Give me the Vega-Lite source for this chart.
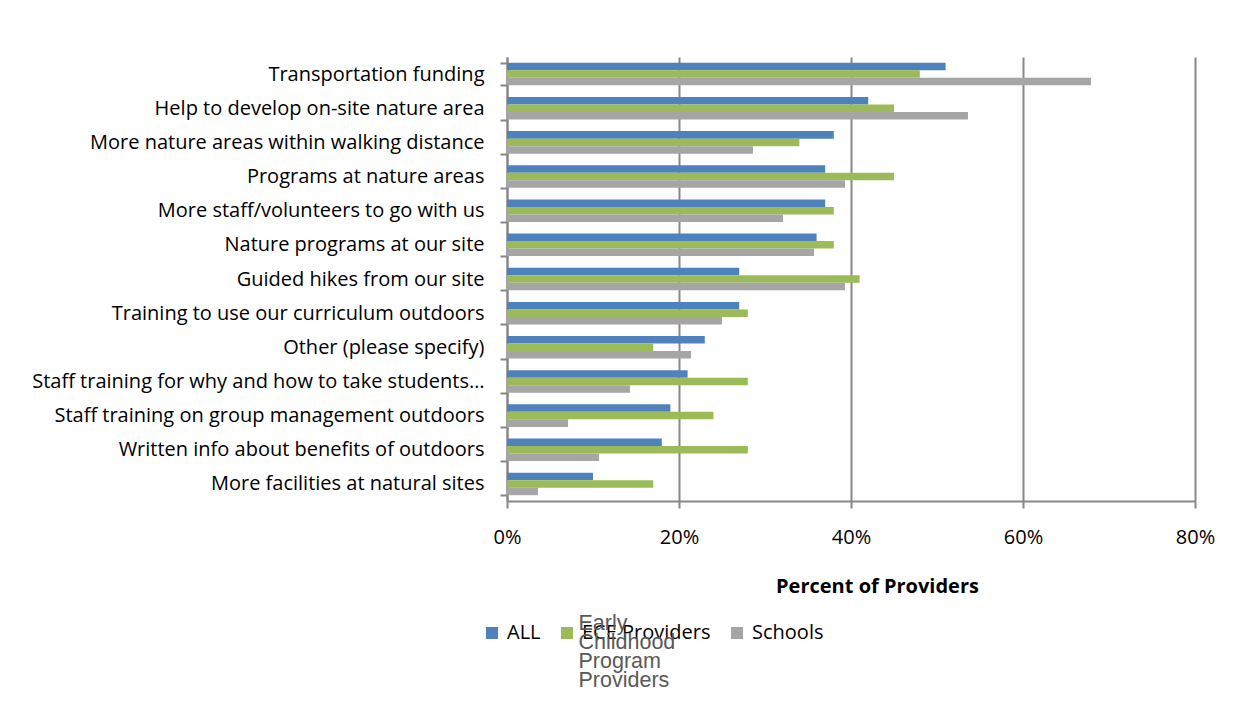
{
  "$schema": "https://vega.github.io/schema/vega-lite/v6.json",
  "width": 688,
  "height": 444,
  "autosize": "none",
  "padding": {"left": 507, "top": 57, "right": 44, "bottom": 201},
  "background": "white",
  "config": {
    "font": "Open Sans",
    "view": {"stroke": null},
    "style": {"guide-label": {"lineHeight": 19}}
  },
  "data": {
    "values": [
      {"category": "Transportation funding", "series": "ALL", "value": 51},
      {"category": "Transportation funding", "series": "ECE Providers", "value": 48},
      {"category": "Transportation funding", "series": "Schools", "value": 67.9},
      {"category": "Help to develop on-site nature area", "series": "ALL", "value": 42},
      {"category": "Help to develop on-site nature area", "series": "ECE Providers", "value": 45},
      {"category": "Help to develop on-site nature area", "series": "Schools", "value": 53.6},
      {"category": "More nature areas within walking distance", "series": "ALL", "value": 38},
      {"category": "More nature areas within walking distance", "series": "ECE Providers", "value": 34},
      {"category": "More nature areas within walking distance", "series": "Schools", "value": 28.6},
      {"category": "Programs at nature areas", "series": "ALL", "value": 37},
      {"category": "Programs at nature areas", "series": "ECE Providers", "value": 45},
      {"category": "Programs at nature areas", "series": "Schools", "value": 39.3},
      {"category": "More staff/volunteers to go with us", "series": "ALL", "value": 37},
      {"category": "More staff/volunteers to go with us", "series": "ECE Providers", "value": 38},
      {"category": "More staff/volunteers to go with us", "series": "Schools", "value": 32.1},
      {"category": "Nature programs at our site", "series": "ALL", "value": 36},
      {"category": "Nature programs at our site", "series": "ECE Providers", "value": 38},
      {"category": "Nature programs at our site", "series": "Schools", "value": 35.7},
      {"category": "Guided hikes from our site", "series": "ALL", "value": 27},
      {"category": "Guided hikes from our site", "series": "ECE Providers", "value": 41},
      {"category": "Guided hikes from our site", "series": "Schools", "value": 39.3},
      {"category": "Training to use our curriculum outdoors", "series": "ALL", "value": 27},
      {"category": "Training to use our curriculum outdoors", "series": "ECE Providers", "value": 28},
      {"category": "Training to use our curriculum outdoors", "series": "Schools", "value": 25},
      {"category": "Other (please specify)", "series": "ALL", "value": 23},
      {"category": "Other (please specify)", "series": "ECE Providers", "value": 17},
      {"category": "Other (please specify)", "series": "Schools", "value": 21.4},
      {"category": "Staff training for why and how to take students…", "series": "ALL", "value": 21},
      {"category": "Staff training for why and how to take students…", "series": "ECE Providers", "value": 28},
      {"category": "Staff training for why and how to take students…", "series": "Schools", "value": 14.3},
      {"category": "Staff training on group management outdoors", "series": "ALL", "value": 19},
      {"category": "Staff training on group management outdoors", "series": "ECE Providers", "value": 24},
      {"category": "Staff training on group management outdoors", "series": "Schools", "value": 7.1},
      {"category": "Written info about benefits of outdoors", "series": "ALL", "value": 18},
      {"category": "Written info about benefits of outdoors", "series": "ECE Providers", "value": 28},
      {"category": "Written info about benefits of outdoors", "series": "Schools", "value": 10.7},
      {"category": "More facilities at natural sites", "series": "ALL", "value": 10},
      {"category": "More facilities at natural sites", "series": "ECE Providers", "value": 17},
      {"category": "More facilities at natural sites", "series": "Schools", "value": 3.6}
    ]
  },
  "mark": {"type": "bar"},
  "encoding": {
    "y": {
      "field": "category",
      "type": "nominal",
      "sort": null,
      "scale": {"paddingInner": 0.34, "paddingOuter": 0.17},
      "axis": {
        "title": null,
        "tickBand": "extent",
        "tickSize": 7,
        "tickColor": "#878787",
        "tickWidth": 2,
        "domainColor": "#878787",
        "domainWidth": 2,
        "labelFontSize": 20,
        "labelColor": "#000000",
        "labelPadding": 16,
        "labelLimit": 600,
        "grid": false
      }
    },
    "yOffset": {"field": "series", "sort": ["ALL", "ECE Providers", "Schools"]},
    "x": {
      "field": "value",
      "type": "quantitative",
      "stack": null,
      "scale": {"domain": [0, 80]},
      "axis": {
        "title": "Percent of Providers",
        "values": [0, 20, 40, 60, 80],
        "labelExpr": "datum.value + '%'",
        "labelFlush": false,
        "grid": true,
        "gridColor": "#878787",
        "gridWidth": 2,
        "tickSize": 7,
        "tickColor": "#878787",
        "tickWidth": 2,
        "domainColor": "#878787",
        "domainWidth": 2,
        "labelFontSize": 20,
        "labelColor": "#000000",
        "labelPadding": 19,
        "titleFontSize": 20,
        "titleFontWeight": "bold",
        "titleColor": "#000000",
        "titleX": 370,
        "titleY": 91,
        "titleBaseline": "alphabetic"
      }
    },
    "color": {
      "field": "series",
      "type": "nominal",
      "scale": {"domain": ["ALL", "ECE Providers", "Schools"], "range": ["#4F81BD", "#9BBB59", "#A5A5A5"]},
      "legend": {
        "title": null,
        "orient": "none",
        "direction": "horizontal",
        "legendX": -25,
        "legendY": 566,
        "symbolType": "square",
        "symbolSize": 144,
        "symbolStrokeWidth": 0,
        "labelFontSize": 20,
        "labelColor": "#000000",
        "labelOffset": 5,
        "columnPadding": 16
      }
    },
    "strokeDash": {
      "datum": "Early Childhood Program Providers",
      "type": "nominal",
      "legend": {
        "title": null,
        "orient": "none",
        "legendX": 50,
        "legendY": 556,
        "symbolSize": 0,
        "symbolOpacity": 0,
        "symbolStrokeWidth": 0,
        "labelOffset": 0,
        "labelFont": "Liberation Sans",
        "labelFontSize": 21.5,
        "labelColor": "#595959",
        "labelExpr": "split(datum.label, ' ')"
      }
    }
  }
}
